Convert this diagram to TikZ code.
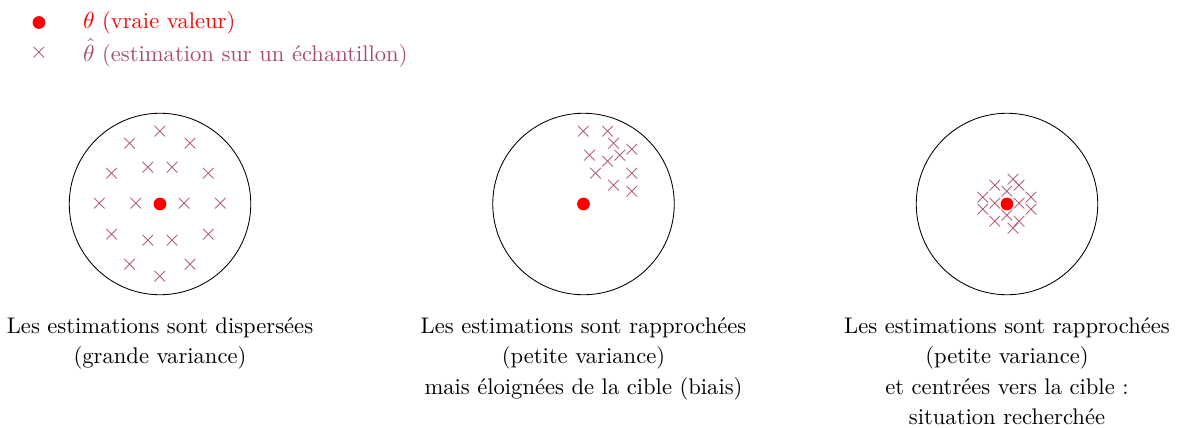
\documentclass[tikz,border=0pt]{standalone}
\begin{document}
\begin{tikzpicture}[font=\fontsize{10.63}{12.75}\selectfont]
\definecolor{est}{RGB}{170,75,115}
\tikzset{
  target/.style={draw=black, line width=0.4pt},
  truedot/.style={fill=red, draw=none},
  estmark/.style={text=est, inner sep=0pt},
  caption/.style={align=center, anchor=north},
  legtext/.style={anchor=west, inner sep=0pt}
}
\useasboundingbox (-2.645,-3.686) rectangle (16.81,3.372);
% legend
\fill[truedot] (-2,3) circle (3pt);
\node[estmark] (legx) at (-2,2.5) {$\times$};
\node[legtext, text=red] (legt) at (-1.28,3) {$\theta$ (vraie valeur)};
\node[legtext, text=est] (lege) at (-1.28,2.5) {$\hat{\theta}$ (estimation sur un échantillon)};
% circle 1
\draw[target] (0,0) circle (1.5);
\foreach \p in {(0,1.2),(0,-1.2),(0.5,1),(-0.5,1),(0.5,-1),(-0.5,-1),
  (0.8,0.5),(-0.8,0.5),(0.8,-0.5),(-0.8,-0.5),(0.2,0.6),(-0.2,0.6),(0.2,-0.6),(-0.2,-0.6),
  (1,0),(-1,0),(0.4,0),(-0.4,0)}
  \node[estmark] at \p {$\times$};
\fill[truedot] (0,0) circle (3pt);
\node[caption] (c1) at (0,-1.75) {Les estimations sont dispersées\\[1.6pt](grande variance)};
% circle 2
\begin{scope}[xshift=7cm]
\draw[target] (0,0) circle (1.5);
\foreach \p in {(0,1.2),(0.4,1.2),(0.5,1.0),(0.8,0.9),(0.1,0.8),(0.6,0.8),(0.4,0.7),(0.2,0.5),(0.8,0.5),(0.5,0.3),(0.8,0.2)}
  \node[estmark] at \p {$\times$};
\fill[truedot] (0,0) circle (3pt);
\node[caption] (c2) at (0,-1.75) {Les estimations sont rapprochées\\[1.6pt](petite variance)\\[1.6pt]mais éloignées de la cible (biais)};
\end{scope}
% circle 3
\begin{scope}[xshift=14cm]
\draw[target] (0,0) circle (1.5);
\foreach \p in {(-0.2,0.3),(0.1,0.4),(0.2,0.3),(0,0.2),(-0.4,0.1),(0.4,0.1),(-0.4,-0.1),(0.4,-0.1),
  (-0.2,0),(0.2,0),(0,-0.2),(-0.2,-0.3),(0.1,-0.4),(0.2,-0.3)}
  \node[estmark] at \p {$\times$};
\fill[truedot] (0,0) circle (3pt);
\node[caption] (c3) at (0,-1.75) {Les estimations sont rapprochées\\[1.6pt](petite variance)\\[1.6pt]et centrées vers la cible :\\[1.6pt]situation recherchée};
\end{scope}
\end{tikzpicture}
\end{document}
